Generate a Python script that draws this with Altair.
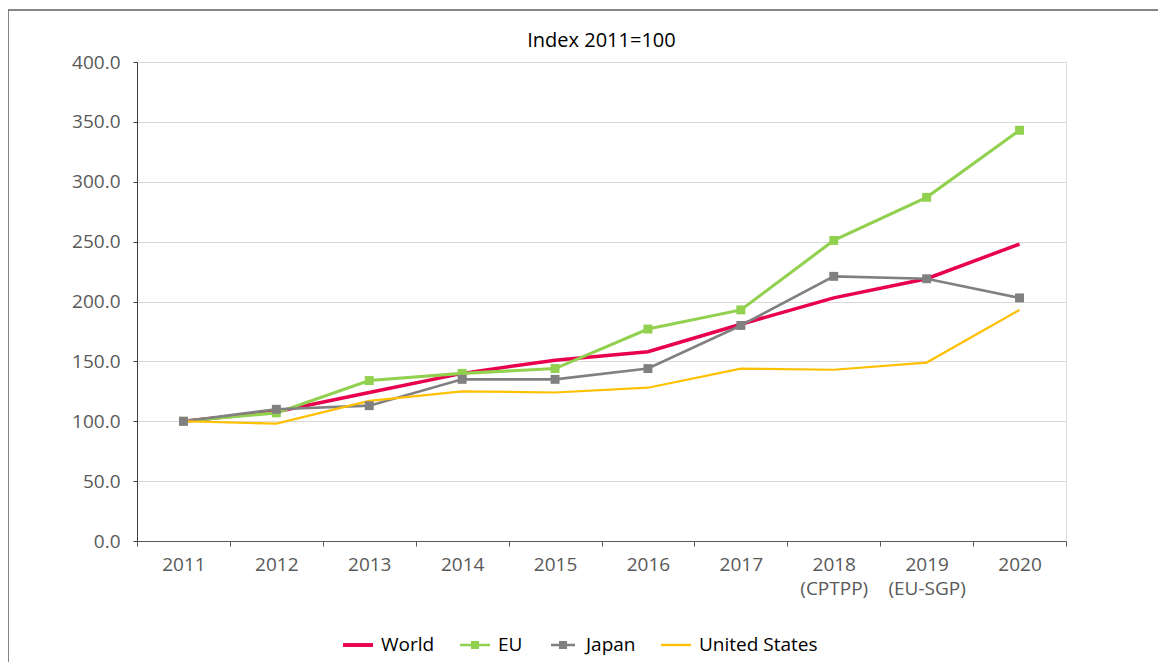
import altair as alt
import pandas as pd

years = ["2011", "2012", "2013", "2014", "2015", "2016", "2017", "2018", "2019", "2020"]
year_labels = ["2011", "2012", "2013", "2014", "2015", "2016", "2017",
               "2018|(CPTPP)", "2019|(EU-SGP)", "2020"]
world = [100, 108, 124, 140, 151, 158, 181, 203, 219, 248]
eu = [100, 107, 134, 140, 144, 177, 193, 251, 287, 343]
japan = [100, 110, 113, 135, 135, 144, 180, 221, 219, 203]
us = [100, 98, 117, 125, 124, 128, 144, 143, 149, 193]

series_names = ["World", "EU", "Japan", "United States"]
series_colors = ["#E8004C", "#92D050", "#808080", "#FFC000"]
series_widths = [3.5, 2.2, 2.2, 2.2]
legend_paths = [
    "M-1,-0.13H1V0.13H-1Z",
    "M-1,-0.08H1V0.08H-1Z M-0.27,-0.27H0.27V0.27H-0.27Z",
    "M-0.8,-0.08H0.8V0.08H-0.8Z M-0.27,-0.27H0.27V0.27H-0.27Z",
    "M-1,-0.08H1V0.08H-1Z",
]

rows = []
for name, vals in zip(series_names, [world, eu, japan, us]):
    for lab, v in zip(year_labels, vals):
        rows.append({"year": lab, "series": name, "value": v})
df = pd.DataFrame(rows)

FONT = "Open Sans"
FS = 19

color_scale = alt.Scale(domain=series_names, range=series_colors)
x_enc = alt.X(
    "year:N",
    sort=year_labels,
    scale=alt.Scale(domain=year_labels, paddingInner=0, paddingOuter=0),
    axis=alt.Axis(
        title=None,
        labelAngle=0,
        labelExpr="split(datum.label, '|')",
        labelFontSize=FS,
        labelColor="#595959",
        labelFont=FONT,
        labelPadding=9,
        labelLineHeight=24,
        tickBand="extent",
        tickSize=5,
        tickColor="#595959",
        domainColor="#595959",
        grid=False,
    ),
)
y_enc = alt.Y(
    "value:Q",
    scale=alt.Scale(domain=[0, 400], nice=False),
    axis=alt.Axis(
        title=None,
        values=[0, 50, 100, 150, 200, 250, 300, 350, 400],
        format=".1f",
        labelFontSize=FS,
        labelColor="#595959",
        labelFont=FONT,
        labelPadding=13,
        tickSize=4,
        tickColor="#404040",
        domainColor="#404040",
        gridColor="#D9D9D9",
        gridWidth=1,
    ),
)

base = alt.Chart(df)

lines = base.mark_line().encode(
    x=x_enc,
    y=y_enc,
    color=alt.Color("series:N", scale=color_scale, legend=None),
    strokeWidth=alt.StrokeWidth("series:N", scale=alt.Scale(domain=series_names, range=series_widths), legend=None),
    order=alt.Order("series_order:Q"),
).transform_calculate(
    series_order="indexof(['United States','World','Japan','EU'], datum.series)"
)

points = base.transform_filter(
    "datum.series == 'EU' || datum.series == 'Japan'"
).mark_point(shape="square", filled=True, size=80, opacity=1).encode(
    x=x_enc,
    y=y_enc,
    color=alt.Color("series:N", scale=color_scale, legend=None),
)

legend_layer = base.transform_filter("false").mark_point(filled=True, opacity=1).encode(
    x=x_enc,
    y=y_enc,
    color=alt.Color(
        "series:N",
        scale=color_scale,
        legend=alt.Legend(
            title=None,
            orient="none",
            legendX=206,
            legendY=568,
            direction="horizontal",
            columns=4,
            symbolSize=900,
            symbolStrokeWidth=0,
            symbolOpacity=1,
            labelFontSize=FS,
            labelFont=FONT,
            labelColor="#000000",
            labelOffset=8,
            columnPadding=25,
            padding=0,
        ),
    ),
    shape=alt.Shape("series:N", scale=alt.Scale(domain=series_names, range=legend_paths), legend=None),
)

frame = alt.Chart(alt.Data(values=[{}])).mark_rect(
    fill=None, stroke="#5F5F5F", strokeWidth=1.5
).encode(
    x=alt.value(-129), x2=alt.value(1300), y=alt.value(-52), y2=alt.value(900)
)

chart = alt.layer(frame, lines, points, legend_layer).resolve_legend(
    color="independent", shape="independent"
).properties(
    width=929,
    height=479,
    padding={"left": 129, "top": 54, "right": 92, "bottom": 121},
    autosize=alt.AutoSizeParams(type="none"),
    title=alt.TitleParams(
        "Index 2011=100", fontSize=20, font=FONT, color="#000000",
        fontWeight="normal", anchor="middle", offset=-42, frame="group",
    ),
).configure_view(stroke=None).configure(background="white")

chart.save("out.html", embed_options={"renderer": "svg", "actions": False})
